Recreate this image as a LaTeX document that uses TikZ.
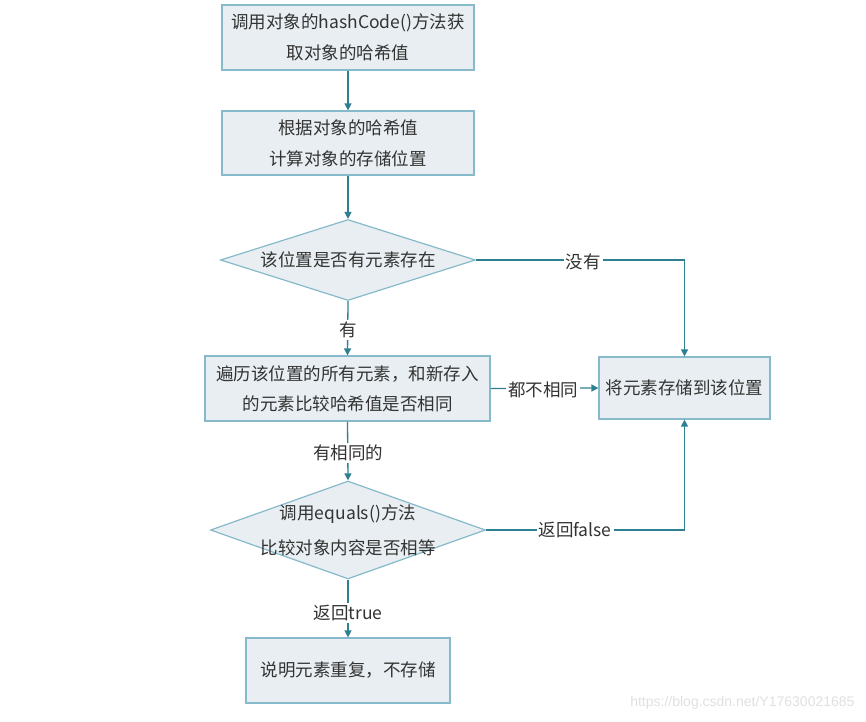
\documentclass[tikz,border=0pt]{standalone}
\usepackage{fontspec}
\setmainfont{Noto Sans CJK SC}
\setsansfont{Liberation Sans}
\usetikzlibrary{shapes.geometric,arrows.meta}
\definecolor{boxfill}{HTML}{E8EEF2}
\definecolor{boxline}{HTML}{86BACB}
\definecolor{arr}{HTML}{2F7F93}
\definecolor{txt}{HTML}{333333}
\tikzset{
  procbox/.style={draw=boxline,fill=boxfill,line width=1.2pt,inner sep=0pt,text=txt,align=center,font=\fontsize{17.5}{31}\selectfont},
  decision/.style={diamond,draw=boxline,fill=boxfill,line width=1.2pt,inner sep=0pt},
  conn/.style={draw=arr,line width=1.3pt},
  tip/.style={-{Triangle[length=7pt,width=7pt]}},
  lbl/.style={fill=white,text=txt,font=\fontsize{17.5}{19}\selectfont,inner sep=2pt}
}
\begin{document}
\begin{tikzpicture}[x=1pt,y=-1pt]
\useasboundingbox (0,0) rectangle (866,721);
\node[procbox,minimum width=252pt,minimum height=65pt] (b1) at (348,37.5) {调用对象的hashCode()方法获\\取对象的哈希值};
\node[procbox,minimum width=252pt,minimum height=64pt] (b2) at (348,143) {根据对象的哈希值\\计算对象的存储位置};
\node[decision,minimum width=255pt,minimum height=81pt,shape aspect=3.15] (d1) at (348,260) {};
\node[text=txt,font=\fontsize{17.5}{19}\selectfont] (t1) at (d1.center) {该位置是否有元素存在};
\node[procbox,minimum width=285pt,minimum height=65pt,font=\fontsize{17.5}{30}\selectfont] (b3) at (347.5,388.5) {遍历该位置的所有元素，和新存入\\的元素比较哈希值是否相同};
\node[procbox,minimum width=171pt,minimum height=62pt] (b4) at (684.5,388) {将元素存储到该位置};
\node[decision,minimum width=275pt,minimum height=98pt,shape aspect=2.8] (d2) at (348,530) {};
\node[text=txt,align=center,font=\fontsize{17.5}{35}\selectfont] (t2) at (d2.center) {调用equals()方法\\比较对象内容是否相等};
\node[procbox,minimum width=204pt,minimum height=65pt] (b5) at (348,670.5) {说明元素重复，不存储};
\coordinate (c1) at (684.5,260);
\coordinate (c2) at (684.5,530);
\draw[conn,tip] (b1.south) -- (b2.north);
\draw[conn,tip] (b2.south) -- (d1.north);
\draw[conn,tip] (d1.east) -- (c1) -- (b4.north);
\node[lbl] (l1) at (583,262) {没有};
\draw[conn,tip] (d1.south) -- (b3.north);
\node[lbl] (l2) at (348,330) {有};
\draw[conn,tip] (b3.east) -- (b4.west);
\node[lbl] (l3) at (543,390) {都不相同};
\draw[conn,tip] (b3.south) -- (d2.north);
\node[lbl] (l4) at (348,453) {有相同的};
\draw[conn,tip] (d2.east) -- (c2) -- (b4.south);
\node[lbl] (l5) at (575,530) {返回false};
\draw[conn,tip] (d2.south) -- (b5.north);
\node[lbl] (l6) at (348,613) {返回true};
\node[text=black!12,font=\sffamily\fontsize{14}{15}\selectfont,anchor=east] (wm) at (858,703) {https://blog.csdn.net/Y17630021685};
\end{tikzpicture}
\end{document}
